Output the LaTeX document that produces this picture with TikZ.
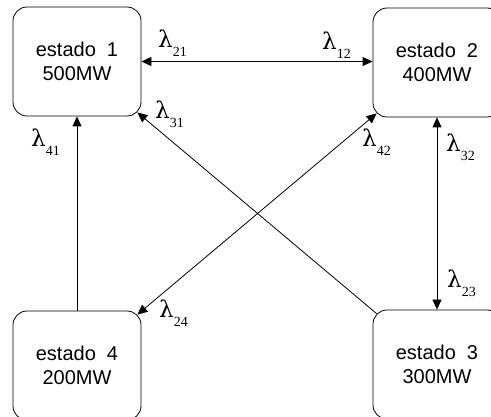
\documentclass[tikz,border=0pt]{standalone}
\usepackage{fontspec}
\setmainfont{Liberation Sans}
\newfontfamily\lamfont{Liberation Serif}
\newfontfamily\lamsym{DejaVu Serif}
\usetikzlibrary{arrows.meta,calc}
\newcommand{\lamlab}[1]{{\lamsym\fontsize{23}{23}\selectfont λ}{\lamfont\raisebox{-9pt}{\fontsize{14}{14}\selectfont #1}}}
\tikzset{
  statebox/.style={draw, line width=0.8pt, rounded corners=14pt, minimum width=128pt, minimum height=109pt, inner sep=0pt, align=center, font=\fontsize{20}{24}\selectfont},
  lab/.style={inner sep=0pt, anchor=base west},
  arr/.style={line width=0.8pt, -{Triangle[length=10pt,width=9pt]}},
  darr/.style={line width=0.8pt, {Triangle[length=10pt,width=9pt]}-{Triangle[length=10pt,width=9pt]}}
}
\begin{document}
\begin{tikzpicture}[x=1pt,y=-1pt]
\useasboundingbox (0,0) rectangle (491,417);
\node[statebox] (b1) at (77,61.5) {estado\ \ 1\\500MW};
\node[statebox] (b2) at (437,62.5) {estado\ \ 2\\400MW};
\node[statebox] (b4) at (77,365.5) {estado\ \ 4\\200MW};
\node[statebox] (b3) at (437,364.5) {estado\ \ 3\\300MW};
\coordinate (c1) at ($(b1.south east)+(-4,-4)$);
\coordinate (c2) at ($(b2.south west)+(4,-4)$);
\coordinate (c3) at ($(b3.north west)+(4,4)$);
\coordinate (c4) at ($(b4.north east)+(-4,4)$);
\draw[darr] (b1.east) -- (b1.east -| b2.west);
\draw[arr] (b4.north) -- (b1.south);
\draw[darr] (b2.south) -- (b3.north);
\draw[arr] (c3) -- (c1);
\draw[darr] (c4) -- (c2);
\node[lab] (l21) at (158,48) {\lamlab{21}};
\node[lab] (l12) at (322,50) {\lamlab{12}};
\node[lab] (l31) at (155,119) {\lamlab{31}};
\node[lab] (l41) at (31,147) {\lamlab{41}};
\node[lab] (l42) at (362,147) {\lamlab{42}};
\node[lab] (l32) at (446,152) {\lamlab{32}};
\node[lab] (l23) at (447,288) {\lamlab{23}};
\node[lab] (l24) at (159,318) {\lamlab{24}};
\end{tikzpicture}
\end{document}
